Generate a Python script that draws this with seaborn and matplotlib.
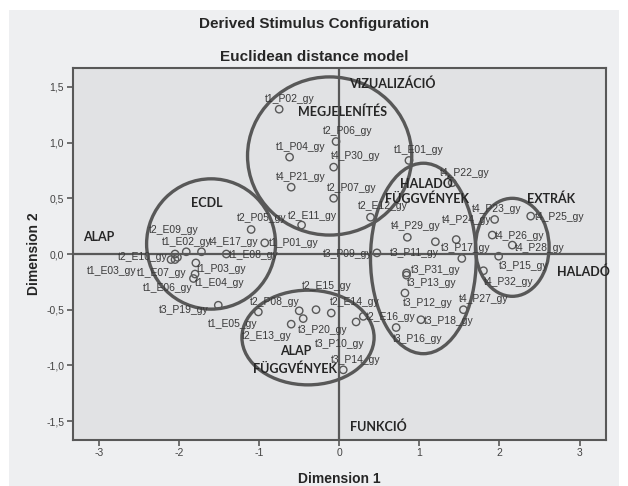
import matplotlib
matplotlib.use('Agg')
import numpy as np
import pandas as pd
import matplotlib.pyplot as plt
import seaborn as sns
from matplotlib.patches import Ellipse, Rectangle
from matplotlib.ticker import FuncFormatter

# MDS stimulus coordinates
names = [
    't1_P02_gy', 't2_P06_gy', 't1_P04_gy', 't4_P30_gy', 't4_P21_gy', 't2_P07_gy',
    't2_E11_gy', 't2_P05_gy', 't1_P01_gy', 't2_E09_gy', 't1_E02_gy', 't4_E17_gy',
    't2_E10_gy', 't1_E08_gy', 't1_E03_gy', 't1_E07_gy', 't1_P03_gy', 't1_E04_gy',
    't1_E06_gy', 't3_P19_gy', 't1_E05_gy', 't2_P08_gy', 't2_E15_gy', 't2_E14_gy',
    't3_P20_gy', 't2_E13_gy', 't3_P10_gy', 't3_P14_gy', 't2_E16_gy', 't1_E01_gy',
    't4_P22_gy', 't2_E12_gy', 't4_P29_gy', 't4_P24_gy', 't3_P11_gy', 't3_P09_gy',
    't3_P17_gy', 't3_P31_gy', 't3_P13_gy', 't3_P12_gy', 't4_P27_gy', 't3_P18_gy',
    't3_P16_gy', 't4_P23_gy', 't4_P25_gy', 't4_P26_gy', 't4_P28_gy', 't3_P15_gy',
    't4_P32_gy',
]
dim1 = [
    -0.75, -0.04, -0.62, -0.07, -0.60, -0.07,
    -0.47, -1.10, -0.93, -1.91, -2.05, -1.72,
    -2.10, -1.41, -2.05, -2.02, -1.79, -1.80,
    -1.82, -1.51, -1.01, -0.50, -0.29, -0.10,
    -0.45, -0.60, 0.21, 0.05, 0.30, 0.87,
    1.41, 0.39, 0.85, 1.46, 1.20, 0.47,
    1.53, 0.84, 0.84, 0.82, 1.55, 1.02,
    0.71, 1.94, 2.39, 1.91, 2.16, 1.99,
    1.80,
]
dim2 = [
    1.30, 1.01, 0.87, 0.78, 0.60, 0.50,
    0.26, 0.22, 0.10, 0.02, 0.00, 0.02,
    -0.05, 0.00, -0.05, -0.03, -0.08, -0.18,
    -0.22, -0.46, -0.52, -0.51, -0.50, -0.53,
    -0.58, -0.63, -0.61, -1.04, -0.56, 0.84,
    0.64, 0.33, 0.15, 0.13, 0.11, 0.01,
    -0.04, -0.17, -0.19, -0.35, -0.50, -0.59,
    -0.66, 0.31, 0.34, 0.17, 0.08, -0.02,
    -0.15,
]

# where each point label sits relative to its marker (pixels, layout only)
label_dx = [
    -14, -13, -14, -3, -15, -7,
    -14, -14, 4, -37, -13, 7,
    -53, 3, -88, -41, 1, 0,
    -51, -59, -50, -49, -14, -1,
    -5, -49, -41, -12, 3, -15,
    -12, -13, -16, -14, -45, -54,
    -21, 4, 0, -2, -5, 3,
    -3, -23, 4, 3, 3, 0,
    0,
]
label_dy = [
    10, 11, 10, 11, 10, 10,
    9, 11, 0, 22, 12, 10,
    3, -1, -11, -16, -6, -9,
    -9, -5, -12, 9, 24, 11,
    -11, -12, -22, 10, -1, 10,
    10, 11, 11, 20, -11, -1,
    10, 3, -8, -10, 11, -1,
    -11, 10, -1, -1, -3, -10,
    -11,
]

# group outlines: centre x, centre y, width, height (data units)
group_cx = [-0.12, -1.60, -0.39, 1.05, 2.16]
group_cy = [0.88, 0.09, -0.75, -0.04, 0.06]
group_w = [2.05, 1.61, 1.65, 1.32, 0.92]
group_h = [1.42, 1.17, 0.85, 1.71, 0.88]

# area captions
caption_text = ['VIZUALIZÁCIÓ', 'MEGJELENÍTÉS', 'ECDL', 'ALAP', 'HALADÓ',
                'FÜGGVÉNYEK', 'EXTRÁK', 'HALADÓ', 'ALAP', 'FÜGGVÉNYEK', 'FUNKCIÓ']
caption_x = [0.12, -0.51, -1.85, -3.20, 1.09, 1.09, 2.34, 2.72, -0.55, -0.55, 0.14]
caption_y = [1.53, 1.28, 0.455, 0.155, 0.63, 0.50, 0.50, -0.16, -0.87, -1.03, -1.55]
caption_ha = ['left', 'left', 'left', 'left', 'center', 'center', 'left', 'left',
              'center', 'center', 'left']

df = pd.DataFrame({'name': names, 'dim1': dim1, 'dim2': dim2})

sns.set_style('white')
plt.rcParams['font.family'] = ['Liberation Sans', 'DejaVu Sans']

DARK = '#585858'
PANEL = '#e1e2e4'
OUTER = '#eeeff1'

fig = plt.figure(figsize=(6.28, 4.86), dpi=100)
fig.patch.set_facecolor('white')
fig.patches.append(Rectangle((9 / 628, 0), 610 / 628, 476 / 486,
                             transform=fig.transFigure, facecolor=OUTER,
                             edgecolor='none', zorder=-10))
ax = fig.add_axes([72.5 / 628, 46 / 486, 533.5 / 628, 372 / 486])
ax.set_facecolor(PANEL)

ax.axhline(0, color=DARK, lw=1.6, zorder=1)
ax.axvline(0, color=DARK, lw=1.6, zorder=1)

sns.scatterplot(data=df, x='dim1', y='dim2', ax=ax, marker='o', s=28,
                facecolor='none', edgecolor=DARK, linewidth=1.0, zorder=3)

for n, x, y, dx, dy in zip(names, dim1, dim2, label_dx, label_dy):
    ax.annotate(n, (x, y), xytext=(dx, dy), textcoords='offset pixels',
                ha='left', va='center', fontsize=7.5, color='#3a3a3a', zorder=4)

for cx, cy, w, h in zip(group_cx, group_cy, group_w, group_h):
    ax.add_patch(Ellipse((cx, cy), w, h, facecolor='none', edgecolor=DARK,
                         lw=2.4, zorder=2))

for t, x, y, ha in zip(caption_text, caption_x, caption_y, caption_ha):
    ax.text(x, y, t, ha=ha, va='center', fontsize=9, fontweight='bold',
            color='#262626', family=['Lato', 'DejaVu Sans'], zorder=5,
            clip_on=False)

ax.set_xlim(-3.33, 3.33)
ax.set_ylim(-1.67, 1.67)
ax.set_xticks([-3, -2, -1, 0, 1, 2, 3])
ax.set_yticks([-1.5, -1.0, -0.5, 0.0, 0.5, 1.0, 1.5])
ax.yaxis.set_major_formatter(FuncFormatter(lambda v, p: f'{v:.1f}'.replace('.', ',')))
ax.xaxis.set_major_formatter(FuncFormatter(lambda v, p: f'{v:.0f}'))
ax.tick_params(direction='out', length=4, width=1.2, color=DARK,
               labelsize=7.5, labelcolor='#444444', pad=2)
ax.tick_params(axis='x', bottom=True)
ax.tick_params(axis='y', left=True)
for sp in ax.spines.values():
    sp.set_color(DARK)
    sp.set_linewidth(1.5)

ax.set_xlabel('Dimension 1', fontsize=10, fontweight='bold', color='#262626', labelpad=10)
ax.set_ylabel('Dimension 2', fontsize=10, fontweight='bold', color='#262626', labelpad=4)

fig.text(0.5, 1 - 24 / 486, 'Derived Stimulus Configuration', ha='center', va='center',
         fontsize=11, fontweight='bold', color='#262626')
fig.text(0.5, 1 - 57 / 486, 'Euclidean distance model', ha='center', va='center',
         fontsize=11, fontweight='bold', color='#262626')

fig.savefig('out.png', dpi=100, facecolor=fig.get_facecolor())
